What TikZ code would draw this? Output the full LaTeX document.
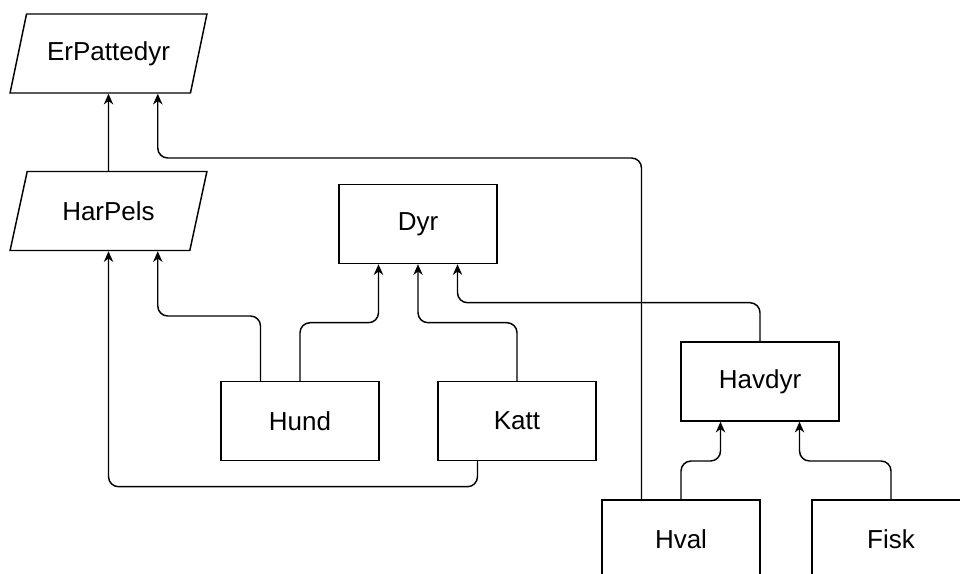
\documentclass[tikz,border=0pt]{standalone}
\usepackage{fontspec}
\setmainfont{Liberation Sans}
\usetikzlibrary{arrows.meta,calc,shapes.geometric}
\begin{document}
\begin{tikzpicture}[
  x=0.75pt,
  y=-0.75pt,
  >={Stealth[length=8pt,width=7pt,inset=2.5pt]},
  font=\fontsize{19.5}{23}\selectfont,
  classbox/.style={
    rectangle,
    draw=black,
    line width=1.1pt,
    minimum width=118.5pt,
    minimum height=59.25pt,
    inner sep=0pt
  },
  trait/.style={
    trapezium,
    trapezium left angle=63,
    trapezium right angle=117,
    trapezium stretches=true,
    draw=black,
    line width=1.1pt,
    minimum width=147.75pt,
    minimum height=59.25pt,
    inner sep=0pt
  },
  link/.style={->, line width=1.1pt, rounded corners=7.5pt}
]
\useasboundingbox (0,0) rectangle (960,574);
\clip (0,0) rectangle (960,574);

% ---------------------------------------------------------------------------
% Traits (parallelograms)
% ---------------------------------------------------------------------------
\node[trait] (erp) at (108.5,53.5) {ErPattedyr};
\node[trait] (harp) at (108.5,211) {HarPels};

% ---------------------------------------------------------------------------
% Classes
% ---------------------------------------------------------------------------
\node[classbox] (dyr) at (418,224) {Dyr};
\node[classbox] (hund) at (300,421) {Hund};
\node[classbox] (katt) at (517,421) {Katt};
\node[classbox] (havdyr) at (760,381.5) {Havdyr};
\node[classbox] (hval) at (681,539.5) {Hval};
\node[classbox] (fisk) at (891,539.5) {Fisk};

% ---------------------------------------------------------------------------
% Inheritance links
% ---------------------------------------------------------------------------
\draw[link] (harp.north) -- (erp.south);
\draw[link] ($(hval.north)+(-39.5,0)$) |- (157.75,158) -- ($(erp.south)+(49.25,0)$);

\draw[link] ($(hund.north)+(-39.5,0)$) |- (157.75,316) -- ($(harp.south)+(49.25,0)$);
\draw[link] ($(katt.south)+(-39.5,0)$) |- (108.5,486.7) -- (harp.south);

\draw[link] (hund.north) |- (378.5,322.7) -- ($(dyr.south)+(-39.5,0)$);
\draw[link] (katt.north) |- (418,322.7) -- (dyr.south);
\draw[link] (havdyr.north) |- (457.5,302.7) -- ($(dyr.south)+(39.5,0)$);

\draw[link] (hval.north) |- (720.5,461) -- ($(havdyr.south)+(-39.5,0)$);
\draw[link] (fisk.north) |- (799.5,461) -- ($(havdyr.south)+(39.5,0)$);

\end{tikzpicture}
\end{document}
